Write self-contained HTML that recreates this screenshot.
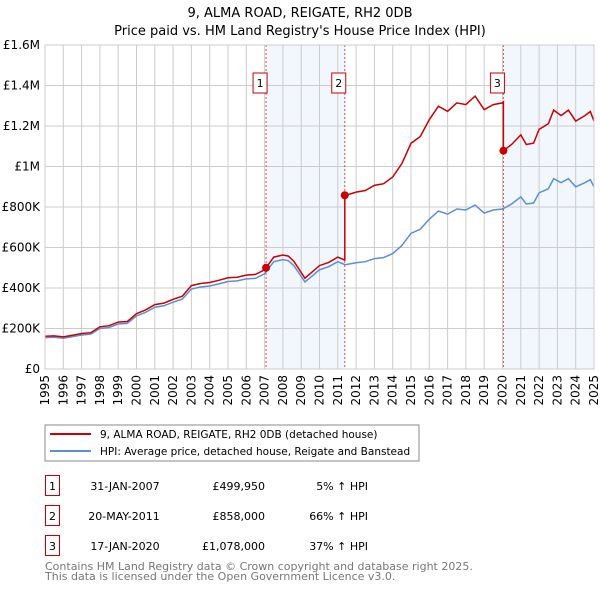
<!DOCTYPE html>
<html><head><meta charset="utf-8"><style>
body{margin:0;background:#fff;font-family:"DejaVu Sans","Liberation Sans",sans-serif;}
svg text{font-family:"DejaVu Sans","Liberation Sans",sans-serif;}
</style></head><body>
<svg id="c" width="600" height="590" xmlns="http://www.w3.org/2000/svg">
<text x="300" y="17" text-anchor="middle" font-size="13">9, ALMA ROAD, REIGATE, RH2 0DB</text>
<text x="300" y="35" text-anchor="middle" font-size="13">Price paid vs. HM Land Registry's House Price Index (HPI)</text>
<g id="plot"></g>
<rect x="45" y="425" width="374" height="36" fill="#fff" stroke="#888"/>
<line x1="50" y1="434" x2="91" y2="434" stroke="#cc0000" stroke-width="2"/>
<text x="100" y="438" font-size="10.5">9, ALMA ROAD, REIGATE, RH2 0DB (detached house)</text>
<line x1="50" y1="451" x2="91" y2="451" stroke="#5b8fd6" stroke-width="2"/>
<text x="100" y="455" font-size="10.5">HPI: Average price, detached house, Reigate and Banstead</text>
<g font-size="11">
<rect x="45.5" y="475.5" width="14" height="20" fill="none" stroke="#cc0000"/>
<text x="52.5" y="490" text-anchor="middle">1</text>
<text x="125" y="490" text-anchor="middle">31-JAN-2007</text>
<text x="265" y="490" text-anchor="end">£499,950</text>
<text x="368" y="490" text-anchor="end">5% ↑ HPI</text>
<rect x="45.5" y="505.5" width="14" height="20" fill="none" stroke="#cc0000"/>
<text x="52.5" y="520" text-anchor="middle">2</text>
<text x="124" y="520" text-anchor="middle">20-MAY-2011</text>
<text x="265" y="520" text-anchor="end">£858,000</text>
<text x="368" y="520" text-anchor="end">66% ↑ HPI</text>
<rect x="45.5" y="535.5" width="14" height="20" fill="none" stroke="#cc0000"/>
<text x="52.5" y="550" text-anchor="middle">3</text>
<text x="125" y="550" text-anchor="middle">17-JAN-2020</text>
<text x="265" y="550" text-anchor="end">£1,078,000</text>
<text x="368" y="550" text-anchor="end">37% ↑ HPI</text>
</g>
<text x="45" y="570" font-size="11" fill="#777">Contains HM Land Registry data © Crown copyright and database right 2025.</text>
<text x="45" y="580" font-size="11" fill="#777">This data is licensed under the Open Government Licence v3.0.</text>
</svg>
<script>
const hpiYears=[1995,1995.5,1996,1996.5,1997,1997.5,1998,1998.5,1999,1999.5,2000,2000.5,2001,2001.5,2002,2002.5,2003,2003.5,2004,2004.5,2005,2005.5,2006,2006.5,2007,2007.5,2008,2008.3,2008.6,2009.2,2009.6,2010,2010.5,2011,2011.4,2012,2012.5,2013,2013.5,2014,2014.5,2015,2015.5,2016,2016.5,2017,2017.5,2018,2018.5,2019,2019.5,2020,2020.5,2021,2021.3,2021.7,2022,2022.5,2022.8,2023.2,2023.6,2024,2024.5,2024.8,2025];
const hpiValues=[155,157,152,160,168,172,200,205,222,225,262,280,305,312,330,345,395,405,410,420,432,435,445,448,470,530,540,535,510,430,460,490,505,530,515,525,530,545,550,570,610,670,690,740,780,765,790,785,810,770,785,790,815,850,815,820,870,890,940,920,940,900,920,935,900];
const saleDates=[2007.08,2011.38,2020.05];
const salePrices=[499950,858000,1078000];
const saleLabels=["1","2","3"];
const yTicks=[0,200000,400000,600000,800000,1000000,1200000,1400000,1600000];
const yTickLabels=["£0","£200K","£400K","£600K","£800K","£1M","£1.2M","£1.4M","£1.6M"];
const xTicks=[1995,1996,1997,1998,1999,2000,2001,2002,2003,2004,2005,2006,2007,2008,2009,2010,2011,2012,2013,2014,2015,2016,2017,2018,2019,2020,2021,2022,2023,2024,2025];

const L=45,R=594,T=45,B=369;
const xs=y=>L+(y-1995)/30*(R-L);
const ys=v=>B-v/1600000*(B-T);
const NS="http://www.w3.org/2000/svg";
const g=document.getElementById('plot');
function mk(t,a){const e=document.createElementNS(NS,t);for(const k in a)e.setAttribute(k,a[k]);g.appendChild(e);return e;}
function hpiAt(y){for(let i=1;i<hpiYears.length;i++){if(y<=hpiYears[i]){const f=(y-hpiYears[i-1])/(hpiYears[i]-hpiYears[i-1]);return (hpiValues[i-1]+f*(hpiValues[i]-hpiValues[i-1]))*1000;}}return hpiValues[hpiValues.length-1]*1000;}

let e=mk('rect',{x:xs(saleDates[0]),y:T,width:xs(saleDates[1])-xs(saleDates[0]),height:B-T,fill:'#f2f6fd'});


e=mk('rect',{x:xs(saleDates[2]),y:T,width:R-xs(saleDates[2]),height:B-T,fill:'#f2f6fd'});


xTicks.forEach(t=>{
 e=mk('line',{x1:xs(t),x2:xs(t),y1:T,y2:B,stroke:'#cccccc','stroke-width':1});
 
 
 e=mk('text',{x:0,y:0,'font-size':12,'text-anchor':'end',transform:`translate(${xs(t)+4},${B+6}) rotate(-90)`});
 e.textContent=t;
 
 
});
yTicks.forEach((t,i)=>{
 e=mk('line',{x1:L,x2:R,y1:ys(t),y2:ys(t),stroke:'#cccccc','stroke-width':1});
 
 
 e=mk('text',{x:L-5,y:ys(t)+4,'font-size':12,'text-anchor':'end'});
 e.textContent=yTickLabels[i];
 
 
});
saleDates.forEach((d,i)=>{
 e=mk('line',{x1:xs(d),x2:xs(d),y1:T,y2:B,stroke:'#e05050','stroke-width':1,'stroke-dasharray':'2,2'});
 
 
});
let pts=hpiYears.map((y,i)=>xs(y).toFixed(1)+','+ys(hpiValues[i]*1000).toFixed(1)).join(' ');
e=mk('polyline',{points:pts,fill:'none',stroke:'#5b8fd6','stroke-width':1.5});


const ratios=salePrices.map((p,i)=>p/hpiAt(saleDates[i]));
let rp=[];
function ratioAt(y){let r=ratios[0];saleDates.forEach((d,i)=>{if(y>=d)r=ratios[i];});return r;}
hpiYears.forEach((y,i)=>{
 saleDates.forEach((d,j)=>{const prev=i>0?hpiYears[i-1]:-1;if(d>prev&&d<=y){const h=hpiAt(d);if(j>0)rp.push([xs(d),ys(h*ratios[j-1])]);rp.push([xs(d),ys(salePrices[j])]);}});
 rp.push([xs(y),ys(hpiValues[i]*1000*ratioAt(y))]);
});
e=mk('polyline',{points:rp.map(p=>p[0].toFixed(1)+','+p[1].toFixed(1)).join(' '),fill:'none',stroke:'#cc0000','stroke-width':1.5});


saleDates.forEach((d,i)=>{
 e=mk('circle',{cx:xs(d),cy:ys(salePrices[i]),r:4,fill:'#cc0000'});
 
 
 const bx=xs(d)-7-6;
 e=mk('rect',{x:bx,y:73,width:14,height:20,fill:'#fff',stroke:'#cc0000'});
 
 
 e=mk('text',{x:bx+7,y:87,'font-size':11,'text-anchor':'middle'});
 e.textContent=saleLabels[i];
 
 
});
e=mk('rect',{x:L,y:T,width:R-L,height:B-T,fill:'none',stroke:'#cccccc'});


</script>
</body></html>
